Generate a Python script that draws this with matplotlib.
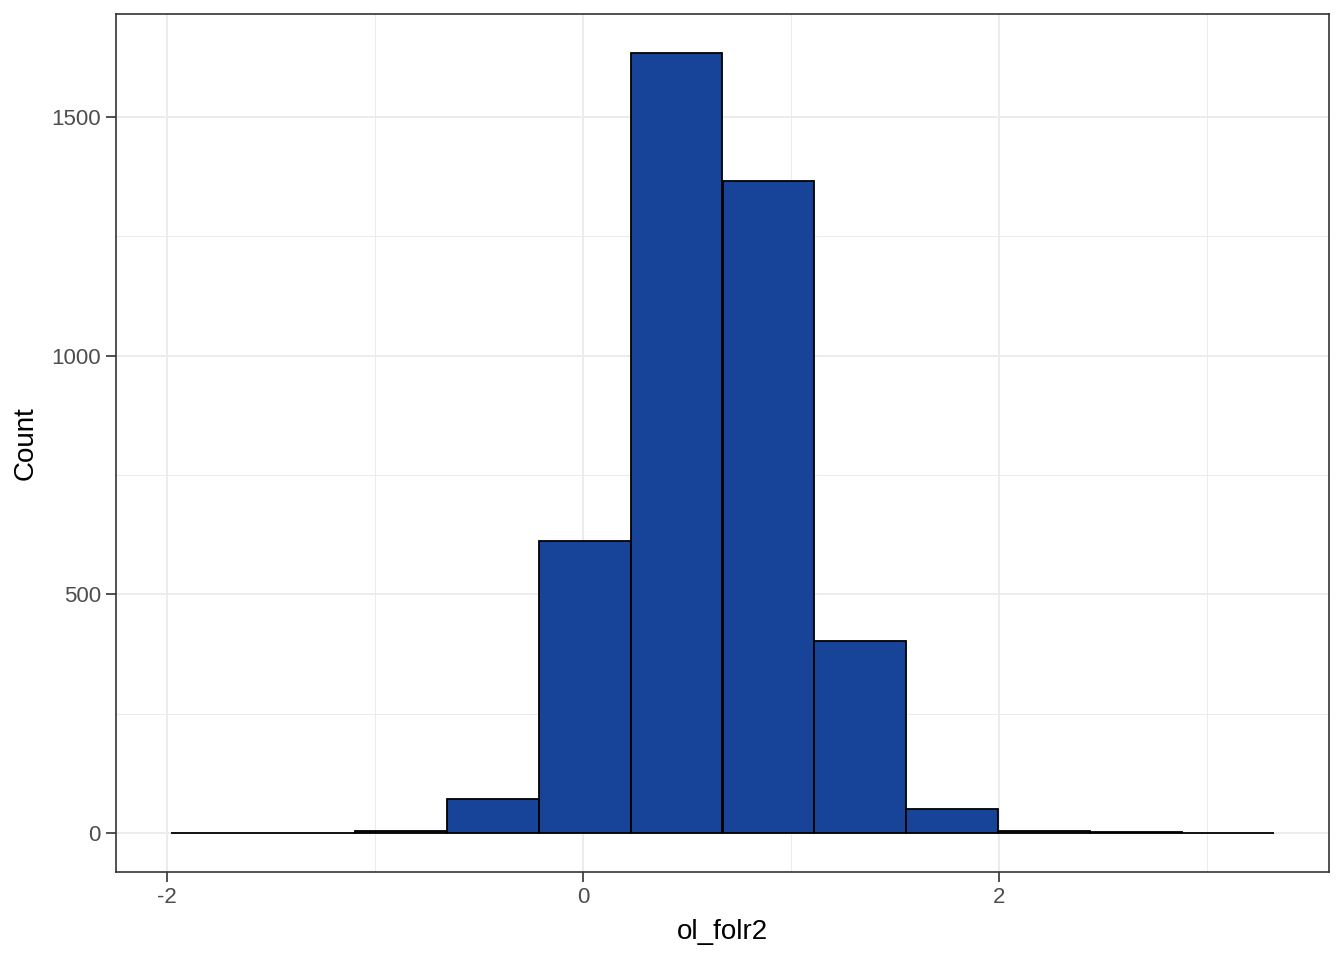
import matplotlib
matplotlib.use("Agg")
import matplotlib.pyplot as plt
import numpy as np

# histogram of ol_folr2, 12 bins
bin_lo = -1.981
bin_width = 0.4418
counts = [1, 0, 4, 71, 611, 1634, 1366, 402, 50, 5, 3, 1]

x_ticks = [-2, 0, 2]
y_ticks = [0, 500, 1000, 1500]

plt.rcParams["font.family"] = ["Liberation Sans", "DejaVu Sans"]
plt.rcParams["axes.unicode_minus"] = False

fig = plt.figure(figsize=(13.44, 9.6), dpi=100)
ax = fig.add_axes([116 / 1344, 1 - 872 / 960, (1329 - 116) / 1344, (872 - 14) / 960])

edges = bin_lo + bin_width * np.arange(len(counts) + 1)
ax.bar(edges[:-1], counts, width=bin_width, align="edge",
       color="#174499", edgecolor="black", linewidth=1.3, zorder=3)

lo, hi = edges[0], edges[-1]
pad = (hi - lo) * 0.05
ax.set_xlim(lo - pad, hi + pad)
ymax = max(counts)
ax.set_ylim(-ymax * 0.05, ymax * 1.05)

ax.set_xticks(x_ticks)
ax.set_yticks(y_ticks)
ax.set_xticks([-1, 1, 3], minor=True)
ax.set_yticks([250, 750, 1250], minor=True)

ax.grid(which="major", color="#ebebeb", linewidth=1.3, zorder=0)
ax.grid(which="minor", color="#ebebeb", linewidth=0.7, zorder=0)
ax.tick_params(which="minor", length=0)
ax.tick_params(which="major", length=7, width=1.2, color="#333333",
               labelsize=16, labelcolor="#4d4d4d", pad=4)
for s in ax.spines.values():
    s.set_color("#333333")
    s.set_linewidth(1.2)

ax.set_xlabel("ol_folr2", fontsize=20, labelpad=8)
ax.set_ylabel("Count", fontsize=20, labelpad=9)

fig.savefig("out.png", dpi=100)
